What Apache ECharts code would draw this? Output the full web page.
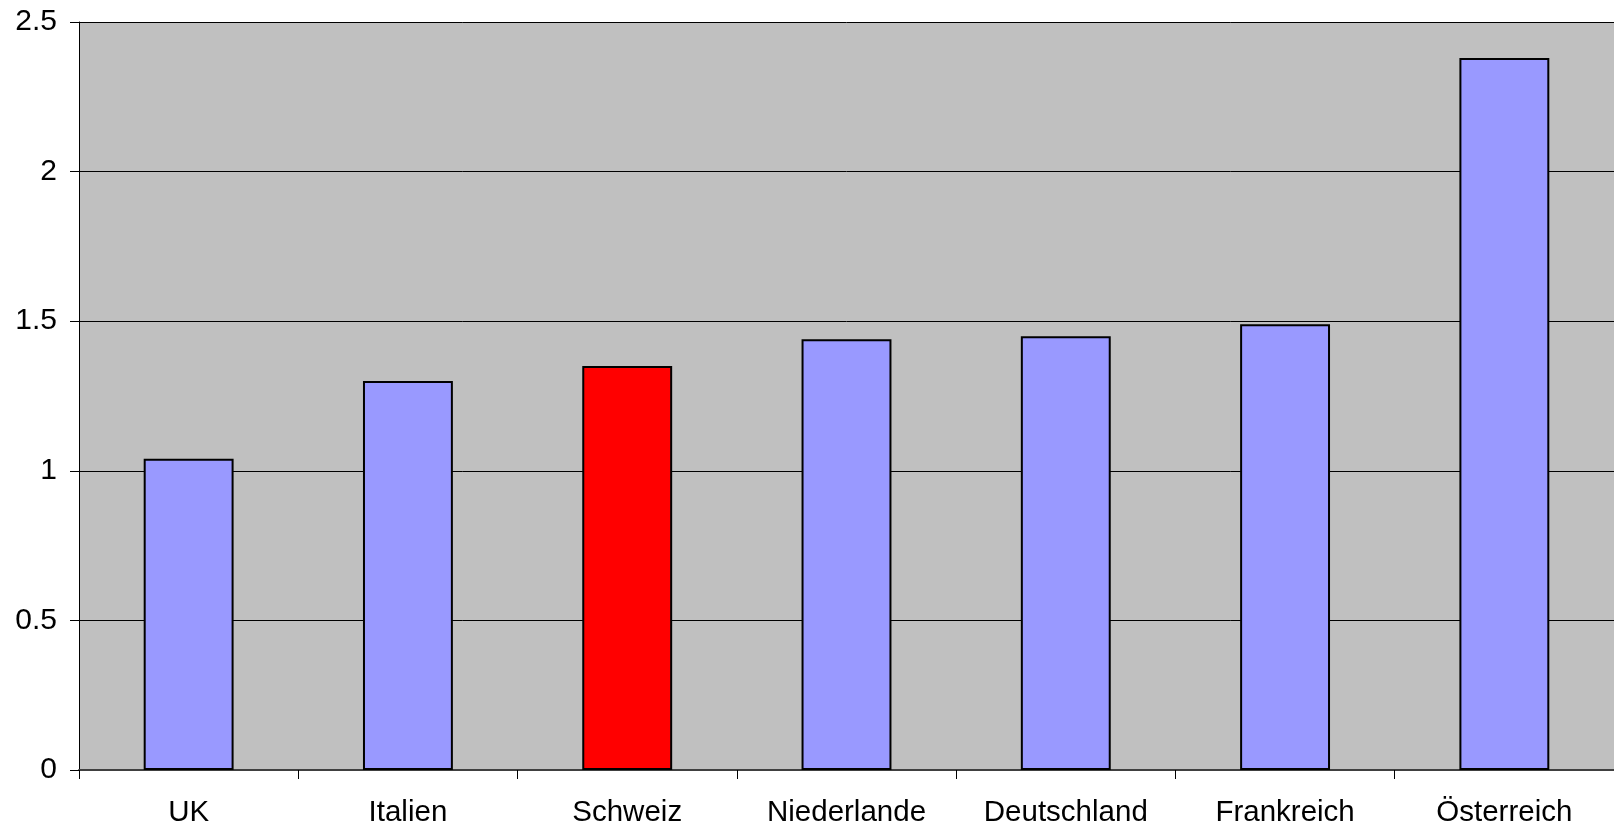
<!DOCTYPE html>
<html>
<head>
<meta charset="utf-8">
<script src="https://cdn.jsdelivr.net/npm/echarts@6/dist/echarts.min.js"></script>
<style>
html,body{margin:0;padding:0;background:#fff;}
#main{width:1614px;height:828px;}
</style>
</head>
<body>
<div id="main"></div>
<script>
// Länder und Werte
var laender = ['UK', 'Italien', 'Schweiz', 'Niederlande', 'Deutschland', 'Frankreich', 'Österreich'];
var werte = [1.04, 1.30, 1.35, 1.44, 1.45, 1.49, 2.38];
var markiert = 'Schweiz';
var yTicks = [0, 0.5, 1, 1.5, 2, 2.5];

var chart = echarts.init(document.getElementById('main'));

var daten = [];
for (var i = 0; i < werte.length; i++) {
  daten.push({
    value: werte[i],
    itemStyle: { color: laender[i] == markiert ? '#FF0000' : '#9999FF' }
  });
}

var option = {
  animation: false,
  grid: {
    left: 79, right: 0, top: 22, bottom: 57,
    show: true, backgroundColor: '#C0C0C0', borderWidth: 0
  },
  xAxis: {
    type: 'category',
    data: laender,
    axisLine: { show: true, lineStyle: { color: '#404040', width: 2 } },
    axisTick: { show: true, length: 9, lineStyle: { color: '#000' } },
    axisLabel: {
      color: '#000', fontSize: 29.5, fontFamily: 'Liberation Sans, Arial', margin: 28
    }
  },
  yAxis: {
    type: 'value',
    min: yTicks[0],
    max: yTicks[yTicks.length - 1],
    interval: 0.5,
    axisLine: { show: true, lineStyle: { color: '#000', width: 1 } },
    axisTick: { show: true, length: 9, lineStyle: { color: '#000' } },
    axisLabel: {
      color: '#000', fontSize: 30, fontFamily: 'Liberation Sans, Arial', margin: 22,
      formatter: function (v) { return String(v); }
    },
    splitLine: { show: true, lineStyle: { color: '#000', width: 1 } }
  },
  series: [
    {
      type: 'bar',
      data: daten,
      barWidth: '41%',
      itemStyle: { borderColor: '#000', borderWidth: 2 }
    }
  ]
};
chart.setOption(option);
</script>
</body>
</html>
